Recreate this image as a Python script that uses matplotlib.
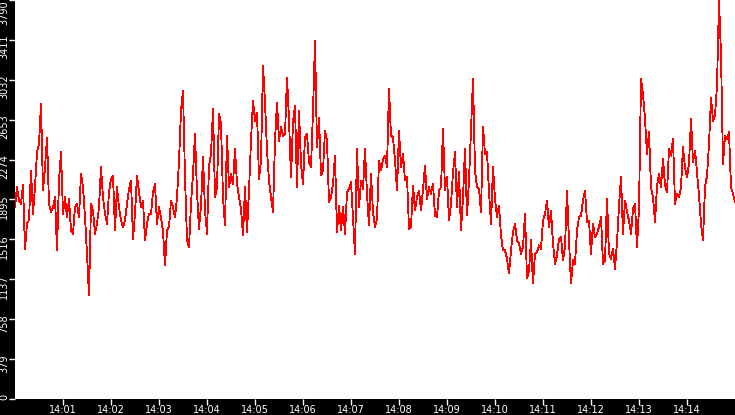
import numpy as np
import pandas as pd
import matplotlib
matplotlib.use("Agg")
import matplotlib.pyplot as plt
import matplotlib.dates as mdates
from matplotlib.transforms import ScaledTranslation

# values, one every 2.5 s from 14:00:00 to 14:15:00
load_values = [
    1822, 2012, 1886, 1855, 2030, 1428, 1664, 1700, 2170, 1760, 2012, 2343, 2422, 2802, 1980,
    2200, 2485, 1855, 1775, 1822, 1917, 1412, 2075, 2343, 1759, 1917, 1727, 1900, 1601, 1570,
    1822, 1855, 1727, 2138, 2012, 1727, 1380, 985, 1855, 1791, 1570, 1664, 1822, 2201, 1917,
    1759, 1664, 1965, 2091, 2120, 1601, 2012, 1822, 1696, 1633, 1696, 1855, 1996, 2075, 1522,
    1759, 2120, 1965, 1822, 1886, 1507, 1664, 1759, 1759, 1965, 2043, 1664, 1822, 1727, 1586,
    1270, 1601, 1633, 1886, 1822, 1727, 1917, 2264, 2738, 2928, 2107, 1507, 1443, 1855, 2138,
    2517, 1964, 1617, 1838, 2296, 1791, 1570, 2217, 2328, 2754, 1917, 2012, 2707, 2612, 1917,
    1649, 2501, 2012, 2138, 2043, 2375, 2043, 1917, 1807, 1554, 2012, 1585, 1980, 2454, 2833,
    2644, 2722, 2091, 2264, 3165, 2817, 2359, 2075, 1917, 1775, 2454, 2817, 2454, 2580, 2501,
    2517, 3054, 2659, 2107, 2628, 2786, 2012, 2738, 2233, 2043, 2485, 2517, 2249, 2201, 2738,
    3401, 2391, 2672, 2123, 2170, 2549, 2454, 1870, 1917, 2043, 2312, 1585, 1838, 1601, 1822,
    1570, 1964, 1996, 2059, 1727, 1380, 2375, 1822, 2075, 1996, 2375, 1948, 1649, 2138, 1775,
    1633, 1712, 2264, 2170, 2280, 2312, 2201, 2944, 2501, 2486, 2264, 1980, 2549, 2201, 2328,
    2075, 2107, 1617, 1633, 2028, 1791, 1917, 1980, 1791, 1996, 2217, 1901, 2012, 1949, 2043,
    1743, 1727, 1980, 2012, 2565, 1980, 2107, 1696, 1854, 2154, 2343, 1822, 2154, 1601, 1917,
    2375, 1743, 2075, 2549, 3038, 2170, 2012, 1996, 1775, 2587, 2328, 2343, 1965, 1664, 2201,
    1901, 1727, 1838, 1554, 1412, 1412, 1333, 1191, 1412, 1586, 1664, 1507, 1475, 1380, 1443,
    1759, 1144, 1222, 1507, 1096, 1380, 1396, 1459, 1427, 1696, 1759, 1886, 1633, 1791, 1475,
    1285, 1364, 1522, 1538, 1317, 1443, 1980, 1507, 1096, 1317, 1285, 1601, 1727, 1743, 1886,
    1980, 1680, 1696, 1380, 1664, 1538, 1570, 1633, 1727, 1285, 1317, 1901, 1380, 1333, 1428,
    1238, 1491, 1838, 2107, 1570, 1886, 1775, 1696, 1570, 1806, 1854, 1443, 1806, 3038, 2896,
    2659, 2328, 2533, 2012, 1917, 1680, 2028, 2138, 2012, 2280, 2028, 1964, 2375, 2312, 2470,
    1854, 1949, 1917, 2012, 2391, 2201, 2107, 2233, 2659, 2249, 2359, 2154, 1933, 1664, 1507,
    2012, 2122, 2422, 2864, 2643, 2691, 2975, 3780, 3275, 2233, 2501, 2470, 2533, 2012, 1949,
    1870,
]
start_time = "2024-01-01 14:00:00"
end_time = "2024-01-01 14:15:00"
y_ticks = [0, 379, 758, 1137, 1516, 1895, 2274, 2653, 3032, 3411, 3790]

times = pd.date_range(start_time, end_time, periods=len(load_values))

fig = plt.figure(figsize=(7.35, 4.15), dpi=100, facecolor="black")
ax = fig.add_axes([15 / 735, 16 / 415, 720 / 735, 399 / 415], facecolor="white")

ax.plot(times, load_values, color="#ff0000", lw=0.6, antialiased=False)

ax.set_xlim(pd.Timestamp(start_time), pd.Timestamp(end_time))
ax.set_ylim(0, 3790)
ax.set_yticks(y_ticks)
ax.xaxis.set_major_locator(mdates.MinuteLocator(byminute=range(1, 15)))
ax.xaxis.set_major_formatter(mdates.DateFormatter("%H:%M"))

for s in ax.spines.values():
    s.set_visible(False)

ax.tick_params(axis="both", colors="white", length=4, width=1, labelsize=7)
ax.tick_params(axis="x", pad=0.5)
ax.tick_params(axis="y", pad=0)

# y labels rotated, top end sitting a bit above the tick
shift = ScaledTranslation(0, 5 / 100, fig.dpi_scale_trans)
labels = ax.get_yticklabels()
for lab in labels:
    lab.set_rotation(90)
    lab.set_va("top")
    lab.set_ha("right")
for lab in labels[:-1]:
    lab.set_transform(lab.get_transform() + shift)

fig.savefig("out.png", dpi=100, facecolor="black")
